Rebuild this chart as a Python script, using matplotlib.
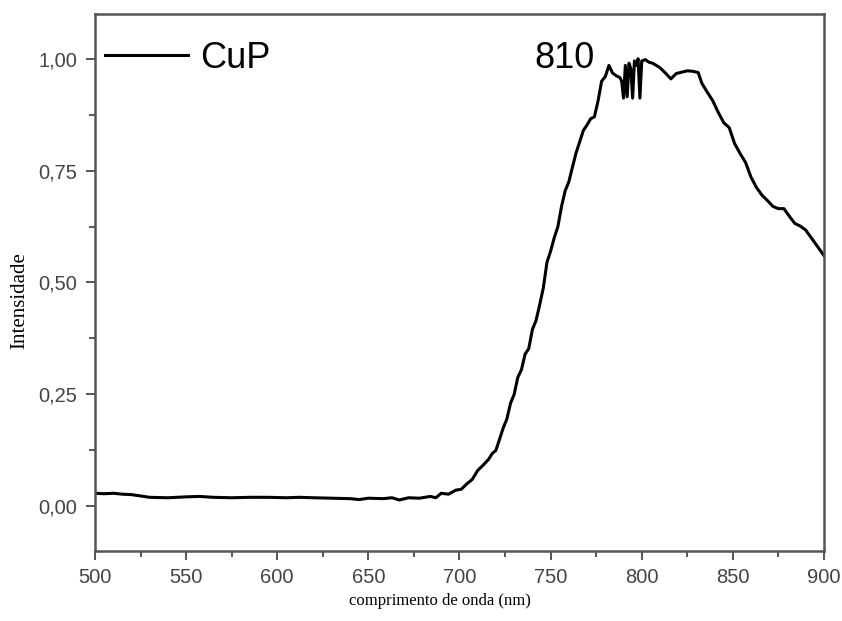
import numpy as np
import matplotlib
matplotlib.use("Agg")
import matplotlib.pyplot as plt
from matplotlib.ticker import MultipleLocator, FuncFormatter

# CuP emission spectrum
wavelength = [500, 505, 510, 515, 520, 525, 530, 540, 550, 557, 565, 575, 585, 595,
              605, 612, 620, 630, 640, 645, 650, 658, 663, 667, 672, 678, 684, 687,
              690, 694, 698, 701, 704, 707, 710, 713, 716, 718, 720, 722, 724, 726,
              728, 730, 732, 734, 736, 738, 740, 742, 744, 746, 748, 750, 752, 754,
              756, 758, 760, 762, 764, 766, 768, 770, 772, 774, 776, 778, 780, 782,
              784, 786, 788, 789, 790, 791, 792, 793, 794, 795, 796, 797, 798, 799,
              800, 802, 804, 806, 808, 810, 813, 816, 819, 822, 825, 828, 831, 833,
              836, 839, 842, 845, 848, 851, 854, 857, 860, 863, 866, 869, 872, 875,
              878, 881, 884, 887, 890, 893, 896, 900]
intensity = [0.029, 0.028, 0.029, 0.027, 0.026, 0.023, 0.020, 0.019, 0.021, 0.022,
             0.020, 0.019, 0.020, 0.020, 0.019, 0.020, 0.019, 0.018, 0.017, 0.015,
             0.018, 0.017, 0.019, 0.014, 0.019, 0.018, 0.022, 0.019, 0.029, 0.027,
             0.036, 0.038, 0.050, 0.060, 0.080, 0.092, 0.105, 0.118, 0.125, 0.150,
             0.175, 0.195, 0.230, 0.250, 0.288, 0.305, 0.340, 0.352, 0.395, 0.415,
             0.450, 0.488, 0.545, 0.570, 0.600, 0.625, 0.670, 0.705, 0.725, 0.758,
             0.790, 0.815, 0.840, 0.852, 0.866, 0.870, 0.905, 0.950, 0.960, 0.985,
             0.968, 0.962, 0.958, 0.950, 0.912, 0.985, 0.915, 0.990, 0.978, 0.912,
             0.995, 0.985, 1.000, 0.912, 0.995, 0.998, 0.992, 0.990, 0.985, 0.980,
             0.968, 0.955, 0.967, 0.970, 0.973, 0.972, 0.969, 0.945, 0.925, 0.906,
             0.880, 0.857, 0.846, 0.810, 0.788, 0.768, 0.735, 0.712, 0.695, 0.683,
             0.670, 0.665, 0.665, 0.648, 0.632, 0.626, 0.617, 0.600, 0.583, 0.560]

x_ticks = [500, 550, 600, 650, 700, 750, 800, 850, 900]
y_ticks = [0.0, 0.25, 0.5, 0.75, 1.0]
peak_label = "810"

fig = plt.figure(figsize=(8.42, 6.21), dpi=100)
ax = fig.add_axes([0.1128, 0.1127, 0.8658, 0.8648])

ax.plot(wavelength, intensity, color="black", lw=2.2, label="CuP")

ax.set_xlim(500, 900)
ax.set_ylim(-0.1, 1.1)
ax.set_xticks(x_ticks)
ax.set_yticks(y_ticks)
ax.xaxis.set_minor_locator(MultipleLocator(25))
ax.yaxis.set_minor_locator(MultipleLocator(0.125))
ax.yaxis.set_major_formatter(FuncFormatter(lambda v, p: f"{v:.2f}".replace(".", ",")))

ax.tick_params(which="both", direction="out", top=False, right=False,
               color="#555555", width=1.4, labelcolor="#444444")
ax.tick_params(which="major", length=6.5, labelsize=14.5, pad=6)
ax.tick_params(which="minor", length=4.5)
for lbl in ax.get_xticklabels() + ax.get_yticklabels():
    lbl.set_family("Liberation Sans")
for sp in ax.spines.values():
    sp.set_color("#555555")
    sp.set_linewidth(1.8)

ax.set_xlabel("comprimento de onda (nm)", family="Liberation Serif", fontsize=12)
ax.xaxis.set_label_coords(0.473, -0.078)
ax.set_ylabel("Intensidade", family="Liberation Serif", fontsize=15)
ax.yaxis.set_label_coords(-0.09, 0.467)

ax.legend(loc="center left", bbox_to_anchor=(0.0137, 0.918), frameon=False,
          handlelength=2.3, handletextpad=0.33, borderpad=0, borderaxespad=0,
          prop={"family": "Liberation Sans", "size": 26})
ax.text(741, 1.0, peak_label, family="Liberation Sans", fontsize=26,
        ha="left", va="center")

fig.savefig("out.png", dpi=100)
